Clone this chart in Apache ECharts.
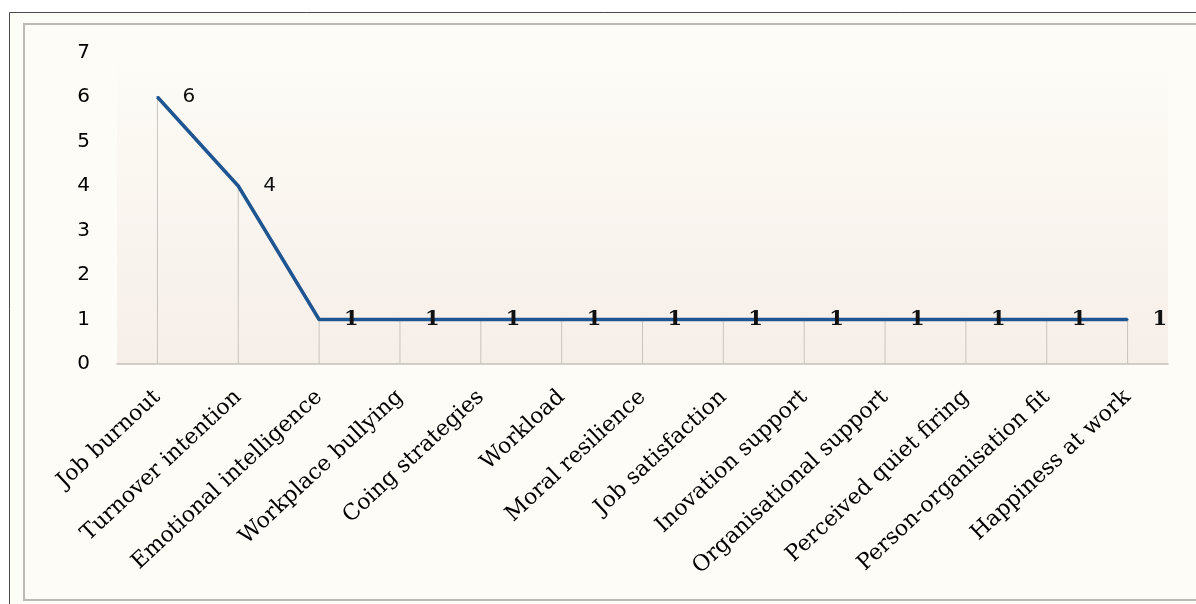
<!DOCTYPE html>
<html>
<head>
<meta charset="utf-8">
<script src="https://cdn.jsdelivr.net/npm/echarts@6/dist/echarts.min.js"></script>
<style>
  html, body { margin: 0; padding: 0; background: #ffffff; }
  #chart { width: 1196px; height: 604px; }
</style>
</head>
<body>
<div id="chart"></div>
<script>
// Factors studied and how many studies reported each one
const categories = [
  'Job burnout', 'Turnover intention', 'Emotional intelligence', 'Workplace bullying',
  'Coing strategies', 'Workload', 'Moral resilience', 'Job satisfaction',
  'Inovation support', 'Organisational support', 'Perceived quiet firing',
  'Person-organisation fit', 'Happiness at work'
];
const counts = [6, 4, 1, 1, 1, 1, 1, 1, 1, 1, 1, 1, 1];
const yTicks = [0, 1, 2, 3, 4, 5, 6, 7];

const chart = echarts.init(document.getElementById('chart'));

// Value labels: the larger counts use a sans face, the ones a bold serif
const lineData = counts.map(function (v) {
  const big = v > 1;
  return {
    value: v,
    label: big
      ? { fontFamily: 'DejaVu Sans', fontWeight: 'normal', fontSize: 20 }
      : { fontFamily: 'DejaVu Serif', fontWeight: 'bold', fontSize: 21 }
  };
});

chart.setOption({
  animation: false,
  backgroundColor: '#ffffff',
  graphic: [
    // outer frame
    { type: 'rect', shape: { x: 9.5, y: 12.5, width: 1200, height: 600 },
      style: { fill: '#fdfdf8', stroke: '#4a4a4a', lineWidth: 1 }, z: -10 },
    // inner frame
    { type: 'rect', shape: { x: 24, y: 24, width: 1190, height: 576 },
      style: { fill: '#fdfcf6', stroke: '#bdbab4', lineWidth: 2 }, z: -9 }
  ],
  grid: {
    left: 117, right: 28, top: 52.5, bottom: 240,
    show: true, borderWidth: 0,
    backgroundColor: new echarts.graphic.LinearGradient(0, 0, 0, 1, [
      { offset: 0, color: '#fdfcf6' },
      { offset: 1, color: '#f6eee9' }
    ])
  },
  xAxis: {
    type: 'category',
    data: categories,
    boundaryGap: true,
    axisLine: { show: true, lineStyle: { color: '#c4c0bb', width: 1.5 } },
    axisTick: { show: false },
    axisLabel: {
      interval: 0, rotate: 43, margin: 30,
      fontFamily: 'DejaVu Serif', fontSize: 22, color: '#000000'
    },
    splitLine: { show: false }
  },
  yAxis: {
    type: 'value',
    min: yTicks[0], max: yTicks[yTicks.length - 1], interval: 1,
    axisLine: { show: false },
    axisTick: { show: false },
    splitLine: { show: false },
    axisLabel: { margin: 27, fontFamily: 'DejaVu Sans', fontSize: 20, color: '#000000' }
  },
  series: [
    {
      // drop lines from each point to the axis
      type: 'bar',
      data: counts,
      barWidth: 1,
      itemStyle: { color: '#c9c4bf' },
      silent: true,
      z: 1
    },
    {
      type: 'line',
      data: lineData,
      symbol: 'circle',
      symbolSize: 2,
      showSymbol: true,
      itemStyle: { color: '#1f5591' },
      lineStyle: { color: '#1f5591', width: 3.5 },
      label: {
        show: true, position: 'right', distance: 24, offset: [0, 4],
        color: '#111111'
      },
      labelLayout: { hideOverlap: false },
      z: 3
    }
  ]
});
</script>
</body>
</html>
